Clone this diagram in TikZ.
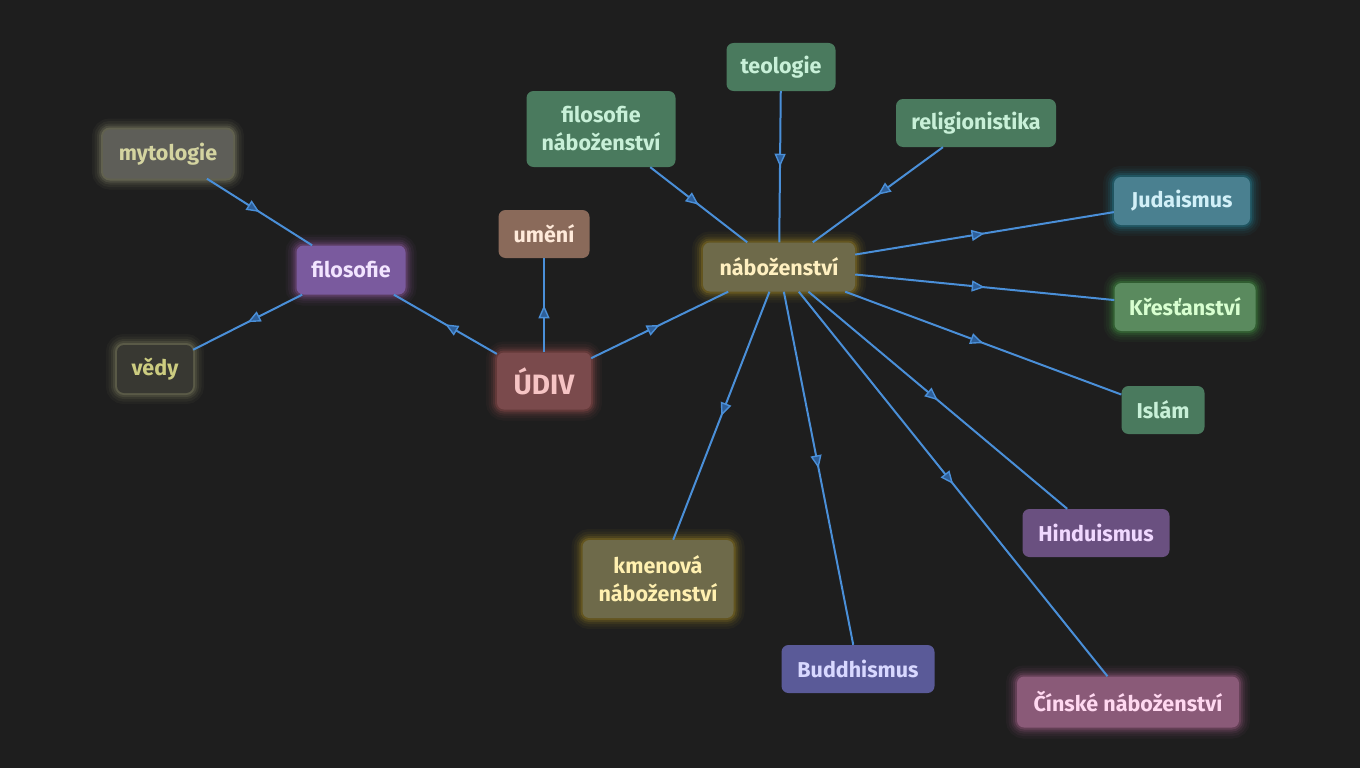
\documentclass[tikz,border=0pt]{standalone}
\usepackage{fontspec}
\setmainfont{Fira Sans}
\usetikzlibrary{arrows.meta,decorations.markings}
\definecolor{bgc}{HTML}{1E1E1E}
\definecolor{edgec}{HTML}{4A8FD8}
\definecolor{edgefill}{HTML}{2E5F99}
% fills / texts / glows
\definecolor{mytF}{RGB}{94,94,88}\definecolor{mytT}{RGB}{212,212,160}\definecolor{mytG}{RGB}{220,220,170}
\definecolor{filF}{RGB}{122,90,158}\definecolor{filT}{RGB}{242,228,255}\definecolor{filG}{RGB}{200,120,220}
\definecolor{vedF}{RGB}{56,56,50}\definecolor{vedT}{RGB}{204,204,128}\definecolor{vedG}{RGB}{200,200,150}
\definecolor{udF}{RGB}{122,74,76}\definecolor{udT}{RGB}{246,196,196}\definecolor{udG}{RGB}{230,110,110}
\definecolor{umF}{RGB}{138,106,90}\definecolor{umT}{RGB}{255,234,218}
\definecolor{nabF}{RGB}{110,106,74}\definecolor{nabT}{RGB}{255,240,192}\definecolor{nabG}{RGB}{230,190,40}
\definecolor{grF}{RGB}{74,122,94}\definecolor{grT}{RGB}{200,240,216}
\definecolor{judF}{RGB}{74,128,144}\definecolor{judT}{RGB}{210,240,248}\definecolor{judG}{RGB}{40,190,220}
\definecolor{krF}{RGB}{90,138,94}\definecolor{krT}{RGB}{216,255,208}\definecolor{krG}{RGB}{90,210,90}
\definecolor{hinF}{RGB}{106,80,128}\definecolor{hinT}{RGB}{240,216,255}
\definecolor{cinF}{RGB}{138,90,120}\definecolor{cinT}{RGB}{255,216,240}\definecolor{cinG}{RGB}{230,130,190}
\definecolor{budF}{RGB}{90,90,152}\definecolor{budT}{RGB}{216,216,255}
\definecolor{kmT}{RGB}{255,240,176}
\tikzset{
  box/.style={draw=none, rounded corners=7pt, inner sep=0pt, align=center,
    font=\fontsize{21.5}{28}\selectfont\bfseries},
  glow/.style={preaction={draw=#1, line width=22pt, opacity=0.04, rounded corners=7pt},
               preaction={draw=#1, line width=17pt, opacity=0.05, rounded corners=7pt},
               preaction={draw=#1, line width=12pt, opacity=0.07, rounded corners=7pt},
               preaction={draw=#1, line width=8pt, opacity=0.10, rounded corners=7pt},
               preaction={draw=#1, line width=4pt, opacity=0.16, rounded corners=7pt}},
  conn/.style={draw=edgec, line width=2pt, postaction={decorate},
    decoration={markings, mark=at position 0.5 with {\arrow{Triangle[length=13pt,width=11pt,fill=edgefill,line width=1.4pt]}}}},
}
\begin{document}
\begin{tikzpicture}[x=1pt,y=-1pt]
\fill[bgc] (0,0) rectangle (1360,768);
\useasboundingbox (0,0) rectangle (1360,768);
% nodes
\node[box, fill=mytF, text=mytT, minimum width=130pt, minimum height=49pt, glow=mytG] (myt) at (168,154) {mytologie};
\node[box, fill=filF, text=filT, minimum width=109pt, minimum height=49pt, glow=filG] (fil) at (351,270) {filosofie};
\node[box, fill=vedF, text=vedT, minimum width=76pt, minimum height=48pt, glow=vedG] (ved) at (155,369) {vědy};
\node[box, fill=udF, text=udT, minimum width=94pt, minimum height=57pt, font=\fontsize{28}{32}\selectfont\bfseries, glow=udG] (udiv) at (544,381) {ÚDIV};
\node[box, fill=umF, text=umT, minimum width=91pt, minimum height=48pt] (umeni) at (544,234) {umění};
\node[box, fill=nabF, text=nabT, minimum width=152pt, minimum height=49pt, glow=nabG] (nab) at (779,267) {náboženství};
\node[box, fill=grF, text=grT, minimum width=149pt, minimum height=76pt] (filnab) at (601,129) {filosofie\\náboženství};
\node[box, fill=grF, text=grT, minimum width=109pt, minimum height=48pt] (teo) at (781,67) {teologie};
\node[box, fill=grF, text=grT, minimum width=160pt, minimum height=48pt] (rel) at (976,123) {religionistika};
\node[box, fill=judF, text=judT, minimum width=136pt, minimum height=48pt, glow=judG] (jud) at (1182,201) {Judaismus};
\node[box, fill=krF, text=krT, minimum width=141pt, minimum height=48pt, glow=krG] (kres) at (1185,307) {Křesťanství};
\node[box, fill=grF, text=grT, minimum width=83pt, minimum height=48pt] (isl) at (1163,410) {Islám};
\node[box, fill=hinF, text=hinT, minimum width=147pt, minimum height=48pt] (hin) at (1096,533) {Hinduismus};
\node[box, fill=cinF, text=cinT, minimum width=222pt, minimum height=51pt, glow=cinG] (cin) at (1128,702) {Čínské náboženství};
\node[box, fill=budF, text=budT, minimum width=153pt, minimum height=48pt] (bud) at (858,669) {Buddhismus};
\node[box, fill=nabF, text=kmT, minimum width=151pt, minimum height=78pt, glow=nabG] (kmen) at (658,579) {kmenová\\náboženství};
% connectors
\path[conn] (myt) -- (fil);
\path[conn] (fil) -- (ved);
\path[conn] (udiv) -- (fil);
\path[conn] (udiv) -- (umeni);
\path[conn] (udiv) -- (nab);
\path[conn] (filnab) -- (nab);
\path[conn] (teo) -- (nab);
\path[conn] (rel) -- (nab);
\path[conn] (nab) -- (jud);
\path[conn] (nab) -- (kres);
\path[conn] (nab) -- (isl);
\path[conn] (nab) -- (hin);
\path[conn] (nab) -- (cin);
\path[conn] (nab) -- (bud);
\path[conn] (nab) -- (kmen);
\end{tikzpicture}
\end{document}
